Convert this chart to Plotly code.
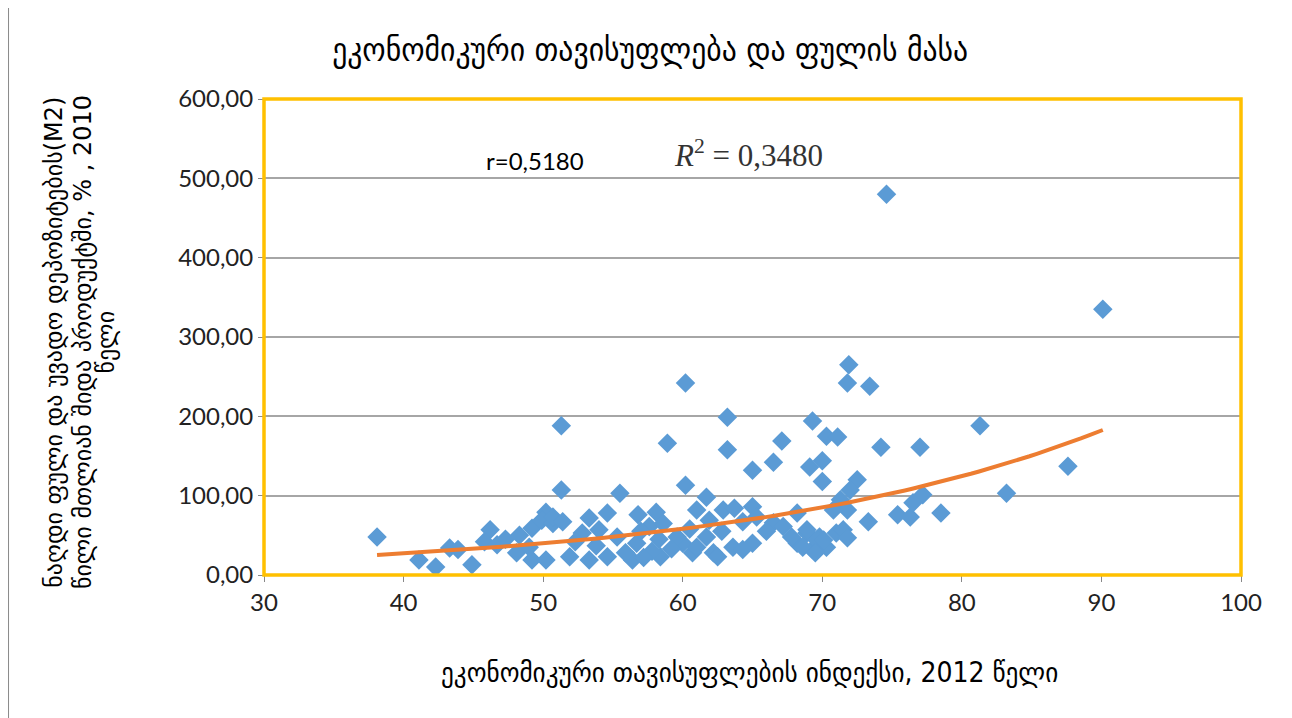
import numpy as np
import plotly.graph_objects as go

# ეკონომიკური თავისუფლების ინდექსი 2012 (x) და M2 / მშპ, % 2010 (y)
freedom_index = [
    38.1, 41.1, 42.3, 43.3, 43.9, 44.9, 46.2, 45.8, 46.7, 48.3,
    48.1, 49.2, 49.2, 50.2, 49.9, 50.2, 51.3, 51.3, 49.0, 50.7,
    55.5, 60.2, 50.7, 51.4, 53.3, 54.6, 56.8, 58.1, 57.6, 58.6,
    52.8, 54.0, 55.3, 56.7, 51.9, 53.3, 54.6, 56.4, 58.4, 60.0,
    60.7, 61.0, 59.6, 63.2, 63.2, 65.0, 66.5, 67.1, 69.3, 70.3,
    71.1, 69.1, 70.0, 70.0, 61.7, 62.9, 63.7, 65.0, 61.9, 64.3,
    65.3, 68.2, 66.5, 67.2, 61.0, 62.2, 63.6, 65.0, 68.2, 68.9,
    69.8, 69.3, 70.3, 71.0, 64.3, 62.5, 71.9, 71.8, 73.4, 74.2,
    77.0, 72.5, 72.0, 71.3, 71.8, 70.8, 73.3, 75.4, 76.3, 77.2,
    76.5, 78.5, 71.5, 71.8, 68.9, 69.6, 68.6, 69.5, 70.1, 74.6,
    90.1, 60.2, 58.9, 81.3, 83.2, 87.6, 57.0, 57.8, 58.3, 55.9,
    57.2, 59.2, 53.8, 52.3, 61.7, 60.5, 66.0, 67.8, 62.8, 47.3,
]
m2_share = [
    48, 19, 10, 34, 32, 13, 57, 42, 38, 50,
    28, 59, 19, 79, 69, 19, 107, 188, 35, 65,
    103, 113, 73, 67, 72, 78, 76, 79, 61, 65,
    53, 57, 48, 40, 23, 19, 23, 19, 23, 40,
    28, 82, 48, 199, 158, 132, 142, 169, 194, 175,
    174, 136, 144, 118, 98, 82, 84, 86, 69, 67,
    73, 78, 66, 61, 35, 28, 35, 40, 40, 53,
    48, 32, 35, 53, 32, 23, 265, 242, 238, 161,
    161, 120, 107, 95, 82, 82, 67, 76, 73, 101,
    91, 78, 57, 47, 57, 44, 35, 28, 44, 480,
    335, 242, 166, 188, 103, 137, 55, 30, 45, 28,
    22, 33, 37, 42, 48, 58, 55, 48, 55, 45,
]

x_ticks = [30, 40, 50, 60, 70, 80, 90, 100]
y_ticks = [0, 100, 200, 300, 400, 500, 600]

y_title_lines = [
    'ნაღდი ფული და უვადო დეპოზიტების(M2)',
    'წილი მთლიან შიდა პროდუქტში, % , 2010',
    'წელი',
]

# ექსპონენციალური ტრენდი (როგორც Excel-ში)
xs = np.array(freedom_index)
ys = np.array(m2_share)
b, ln_a = np.polyfit(xs, np.log(ys), 1)
trend_x = np.linspace(xs.min(), xs.max(), 100)
trend_y = np.exp(ln_a) * np.exp(b * trend_x)

GEO_FONT = 'DejaVu Sans Condensed'

fig = go.Figure()

fig.add_trace(go.Scatter(
    x=freedom_index, y=m2_share, mode='markers',
    marker=dict(symbol='diamond', size=15, color='#5B9BD5', line=dict(width=0)),
    showlegend=False
))

fig.add_trace(go.Scatter(
    x=trend_x, y=trend_y, mode='lines',
    line=dict(color='#ED7D31', width=4),
    showlegend=False
))

# გვერდს 8px დაშორება აქვს, ამიტომ ველები შესაბამისად არის შემცირებული
fig.update_layout(
    width=1292, height=718,
    margin=dict(l=256, r=59, t=91, b=151),
    paper_bgcolor='white',
    plot_bgcolor='white',
    separators=', ',
    font=dict(family='Lato', size=24, color='#222222'),
    title=dict(
        text='ეკონომიკური თავისუფლება და ფულის მასა',
        font=dict(family=GEO_FONT, size=33, color='black'),
        x=0.497, xanchor='center', y=0.942, yanchor='middle'
    ),
)

fig.update_xaxes(
    range=[30, 100], tickvals=x_ticks,
    showgrid=False, zeroline=False,
    ticks='outside', ticklen=6, tickcolor='#888888',
    showline=False
)
fig.update_yaxes(
    range=[0, 600], tickvals=y_ticks, tickformat='.2f',
    showgrid=True, gridcolor='#A6A6A6', gridwidth=1.5,
    zeroline=False,
    ticks='outside', ticklen=5, tickcolor='#888888',
    showline=False
)

# ოქროსფერი ჩარჩო და გარე ჩარჩო
fig.add_shape(type='rect', xref='paper', yref='paper', x0=0, y0=0, x1=1, y1=1,
              line=dict(color='#FFC000', width=3.5))
fig.add_shape(type='rect', xref='paper', yref='paper',
              x0=-0.262, y0=-0.33, x1=1.048, y1=1.197,
              line=dict(color='#8C8C8C', width=2))

for line_text, xpos, ypos in zip(y_title_lines, [-0.215, -0.186, -0.162], [0.49, 0.49, 0.49]):
    fig.add_annotation(
        text=line_text, xref='paper', yref='paper', x=xpos, y=ypos,
        xanchor='center', yanchor='middle',
        textangle=-90, showarrow=False,
        font=dict(family='DejaVu Sans', size=24, color='black')
    )
fig.add_annotation(
    text='ეკონომიკური თავისუფლების ინდექსი, 2012 წელი',
    xref='paper', yref='paper', x=0.497, y=-0.204,
    xanchor='center', yanchor='middle', showarrow=False,
    font=dict(family=GEO_FONT, size=28, color='black')
)
fig.add_annotation(
    text='r=0,5180', xref='paper', yref='paper', x=0.277, y=0.87,
    xanchor='center', yanchor='middle',
    showarrow=False, font=dict(family='Lato', size=24, color='black')
)
fig.add_annotation(
    text='<i>R</i><sup>2</sup> = 0,3480', xref='paper', yref='paper', x=0.496, y=0.885,
    xanchor='center', yanchor='middle',
    showarrow=False, font=dict(family='Liberation Serif', size=31, color='#333333')
)

fig.write_html("out.html")
